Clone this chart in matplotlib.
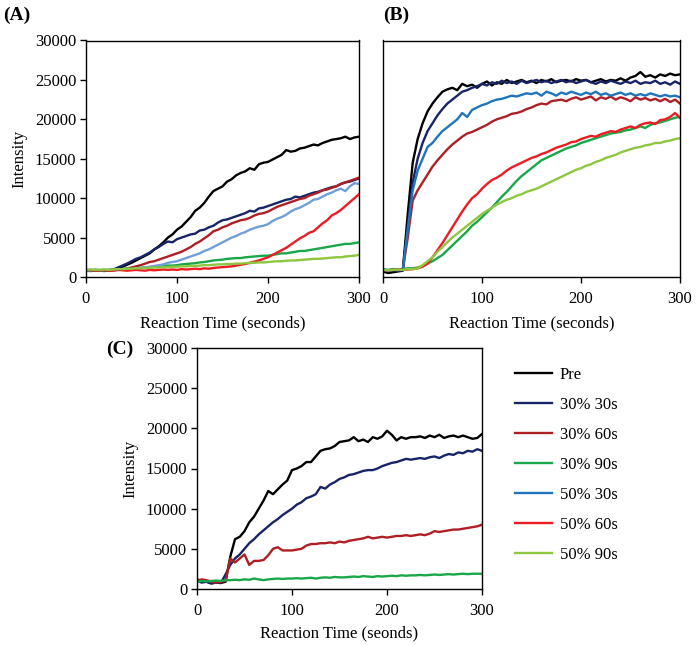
import numpy as np
import matplotlib
matplotlib.use("Agg")
import matplotlib.pyplot as plt

plt.rcParams['font.family'] = ['Liberation Serif', 'DejaVu Serif']

time_s = list(range(0, 301, 5))
labels = ["Pre", "30% 30s", "30% 60s", "30% 90s", "50% 30s", "50% 60s", "50% 90s"]

# ---------------- Panel A ----------------
a_pre = [800, 850, 780, 820, 760, 850, 900, 1100, 1300, 1550, 1800, 2100, 2400, 2700, 3000, 3500, 3900, 4400, 5000, 5400,
         6000, 6400, 7000, 7600, 8400, 8800, 9400, 10200, 10900, 11200, 11500, 12100, 12400, 12900, 13200, 13400, 13800,
         13600, 14300, 14500, 14600, 14900, 15200, 15500, 16100, 15900, 16000, 16300, 16400, 16600, 16800, 16700, 17000,
         17200, 17400, 17500, 17600, 17800, 17500, 17700, 17800]
a_30_30 = [800, 760, 820, 780, 800, 850, 950, 1200, 1450, 1700, 2000, 2300, 2500, 2800, 3100, 3500, 3800, 4200, 4500, 4400,
           4800, 5000, 5200, 5400, 5500, 5900, 6000, 6300, 6500, 6900, 7200, 7300, 7500, 7700, 7900, 8100, 8400, 8300, 8700,
           8800, 9000, 9200, 9400, 9600, 9800, 9900, 10200, 10100, 10300, 10500, 10700, 10800, 11000, 11200, 11400, 11500,
           11800, 12000, 12100, 12300, 12500]
a_30_60 = [850, 800, 900, 780, 820, 850, 820, 900, 950, 1100, 1200, 1350, 1500, 1700, 1900, 2000, 2200, 2400, 2600, 2800,
           3000, 3200, 3500, 3800, 4200, 4500, 4900, 5300, 5800, 6000, 6300, 6500, 6800, 7000, 7200, 7300, 7500, 7800, 8000,
           8100, 8300, 8600, 8900, 9100, 9300, 9500, 9700, 9900, 10000, 10300, 10500, 10700, 11000, 11100, 11300, 11500,
           11800, 12000, 12200, 12400, 12600]
a_30_90 = [800, 850, 820, 800, 850, 880, 900, 950, 1000, 1050, 1000, 1100, 1150, 1200, 1250, 1300, 1350, 1400, 1450, 1450,
           1500, 1600, 1650, 1700, 1750, 1850, 1900, 2000, 2100, 2150, 2200, 2300, 2350, 2400, 2400, 2500, 2550, 2600, 2650,
           2700, 2700, 2800, 2900, 3000, 3000, 3100, 3200, 3300, 3300, 3400, 3500, 3600, 3700, 3800, 3900, 4000, 4100, 4200,
           4200, 4300, 4400]
a_50_30 = [900, 850, 950, 880, 900, 950, 900, 950, 1000, 1050, 1000, 1100, 1150, 1250, 1300, 1400, 1500, 1600, 1800, 1900,
           2000, 2200, 2400, 2600, 2800, 3000, 3300, 3500, 3800, 4100, 4400, 4700, 5000, 5200, 5500, 5700, 6000, 6200, 6400,
           6500, 6700, 7100, 7400, 7600, 7900, 8300, 8600, 8800, 9100, 9400, 9800, 9900, 10200, 10500, 10700, 11000, 11200,
           10900, 11500, 11900, 11800]
a_50_60 = [850, 900, 800, 850, 900, 800, 850, 900, 850, 800, 850, 900, 850, 800, 900, 850, 900, 950, 900, 950, 900, 1000,
           950, 1000, 1050, 1000, 1100, 1050, 1150, 1200, 1250, 1300, 1350, 1450, 1550, 1650, 1800, 1950, 2100, 2300, 2500,
           2800, 3100, 3400, 3700, 4100, 4500, 4900, 5200, 5600, 5800, 6300, 6800, 7200, 7800, 8100, 8500, 9000, 9500,
           10000, 10500]
a_50_90 = [900, 950, 900, 920, 950, 900, 950, 1000, 1000, 1050, 1050, 1100, 1100, 1150, 1150, 1200, 1200, 1250, 1250, 1300,
           1300, 1350, 1350, 1400, 1400, 1450, 1500, 1500, 1550, 1600, 1600, 1650, 1650, 1700, 1700, 1750, 1800, 1800, 1850,
           1850, 1900, 1950, 2000, 2000, 2050, 2100, 2100, 2150, 2200, 2250, 2300, 2300, 2350, 2400, 2450, 2500, 2500, 2600,
           2650, 2700, 2800]

# ---------------- Panel B ----------------
b_pre = [700, 500, 600, 700, 800, 8000, 14500, 17500, 19500, 21000, 22000, 22800, 23500, 23800, 24000, 23700, 24500, 24200,
         24400, 24000, 24500, 24800, 24300, 24700, 24500, 25000, 24600, 24800, 25000, 24700, 24900, 24600, 25000, 24800,
         25100, 24700, 24900, 25000, 24800, 25100, 24900, 25000, 24700, 24900, 25100, 24800, 25000, 24900, 25200, 24900,
         25300, 25500, 26000, 25400, 25600, 25300, 25700, 25500, 25800, 25600, 25700]
b_30_30 = [900, 800, 850, 900, 850, 6500, 12000, 15000, 17000, 18500, 19500, 20500, 21300, 22000, 22500, 23000, 23500, 23700,
           24000, 24200, 24500, 24300, 24700, 24500, 24900, 24600, 24800, 24500, 24900, 24600, 24800, 25000, 24700, 24900,
           24600, 24800, 25000, 24700, 24900, 24600, 24800, 25000, 24700, 24500, 24800, 24600, 24900, 24700, 24500, 24800,
           24600, 24900, 24500, 24700, 24600, 24900, 24500, 24700, 24400, 24800, 24500]
b_30_60 = [900, 850, 900, 880, 900, 5000, 9700, 11000, 12000, 13000, 14000, 14800, 15500, 16200, 16800, 17300, 17800, 18200,
           18400, 18700, 19000, 19300, 19700, 20000, 20200, 20400, 20700, 20800, 21000, 21300, 21500, 21800, 22000, 21900,
           22300, 22400, 22500, 22300, 22600, 22800, 22500, 22700, 22900, 22400, 22800, 22600, 22900, 22500, 22800, 22600,
           22300, 22800, 22500, 22700, 22400, 22600, 22300, 22600, 22200, 22500, 22000]
b_30_90 = [1000, 900, 1000, 950, 1000, 1100, 1100, 1200, 1400, 1700, 2000, 2400, 2800, 3400, 4000, 4600, 5200, 5800, 6500,
           7000, 7600, 8200, 8800, 9500, 10200, 10800, 11500, 12200, 12800, 13300, 13800, 14300, 14800, 15100, 15400, 15700,
           16000, 16300, 16500, 16700, 17000, 17200, 17400, 17600, 17800, 18000, 18200, 18300, 18400, 18600, 18700, 18900,
           19100, 18900, 19300, 19500, 19600, 19800, 20000, 20200, 20300]
b_50_30 = [900, 850, 900, 850, 900, 6000, 11000, 13500, 15000, 16500, 17000, 17800, 18500, 19000, 19500, 20000, 20800, 20300,
           21200, 21500, 21800, 22000, 22300, 22500, 22600, 22800, 23000, 22900, 23100, 23300, 23200, 23400, 23000, 23500,
           23300, 23000, 23400, 23200, 23500, 23300, 23100, 23400, 23200, 23500, 23100, 23300, 23000, 23200, 23400, 23100,
           23300, 23000, 23200, 23000, 23300, 23100, 22900, 23100, 22900, 23000, 22800]
b_50_60 = [900, 850, 900, 950, 900, 950, 1000, 1100, 1300, 1700, 2500, 3400, 4300, 5300, 6300, 7300, 8300, 9200, 10000,
           10500, 11200, 11800, 12300, 12600, 13000, 13500, 13900, 14200, 14500, 14800, 15100, 15300, 15600, 15800, 16100,
           16400, 16600, 16800, 17100, 17200, 17500, 17700, 17900, 17800, 18100, 18300, 18500, 18400, 18700, 18900, 19100,
           18900, 19300, 19500, 19600, 19400, 19900, 20000, 20300, 20800, 20200]
b_50_90 = [900, 850, 900, 950, 900, 1000, 1000, 1100, 1500, 2000, 2500, 3200, 3800, 4400, 5000, 5500, 6000, 6500, 7000,
           7500, 8000, 8400, 8800, 9200, 9500, 9800, 10000, 10300, 10500, 10800, 11000, 11200, 11500, 11800, 12100, 12400,
           12700, 13000, 13300, 13600, 13800, 14100, 14300, 14600, 14800, 15100, 15300, 15500, 15800, 16000, 16200, 16400,
           16500, 16700, 16800, 17000, 17000, 17200, 17300, 17500, 17600]

# ---------------- Panel C ----------------
c_pre = [1200, 1000, 900, 700, 800, 750, 900, 4000, 6200, 6500, 7200, 8300, 9000, 10000, 11000, 12200, 11800, 12400, 13000,
         13500, 14800, 15000, 15300, 15800, 15800, 16500, 17200, 17400, 17500, 17800, 18300, 18400, 18500, 18900, 18400,
         18600, 18300, 18900, 18700, 19000, 19700, 19200, 18500, 18900, 18700, 18900, 18900, 19000, 18800, 19100, 18900,
         19200, 18800, 19000, 19100, 18900, 19100, 18900, 18700, 18800, 19300]
c_30_30 = [1000, 800, 900, 700, 800, 750, 1800, 3000, 3800, 4300, 5000, 5700, 6200, 6800, 7300, 7800, 8300, 8700, 9200,
           9600, 10000, 10500, 10800, 11300, 11500, 11800, 12700, 12500, 13000, 13300, 13700, 13900, 14200, 14300, 14500,
           14700, 14800, 14800, 15000, 15300, 15500, 15700, 15800, 16000, 16200, 16100, 16200, 16300, 16200, 16400, 16500,
           16300, 16600, 16800, 16700, 17000, 16900, 17200, 17100, 17400, 17200]
c_30_60 = [1000, 1200, 1100, 900, 800, 900, 1000, 3800, 3300, 3800, 4300, 3000, 3500, 3500, 3600, 4200, 5000, 5200, 4800,
           4800, 4800, 4900, 5000, 5400, 5600, 5600, 5700, 5700, 5800, 5700, 5900, 5800, 6000, 6100, 6200, 6300, 6500, 6300,
           6400, 6500, 6400, 6500, 6600, 6600, 6700, 6600, 6700, 6800, 6700, 6900, 7200, 7100, 7200, 7300, 7400, 7400, 7500,
           7600, 7700, 7800, 8000]
c_30_90 = [900, 1000, 950, 1000, 1050, 1000, 1100, 1100, 1150, 1100, 1200, 1150, 1300, 1200, 1100, 1200, 1250, 1300, 1250,
           1300, 1300, 1350, 1300, 1350, 1400, 1300, 1400, 1450, 1400, 1500, 1450, 1450, 1500, 1550, 1500, 1600, 1550, 1500,
           1600, 1550, 1600, 1650, 1600, 1700, 1650, 1700, 1700, 1750, 1700, 1750, 1800, 1750, 1800, 1850, 1800, 1850, 1900,
           1850, 1900, 1900, 1900]

colors = ['#000000', '#172467', '#ae1f24', '#1aa74a', '#1f74bb', '#ed1c24', '#8dc63f']
colors_a = ['#000000', '#172467', '#ae1f24', '#1aa74a', '#6f9fd8', '#ed1c24', '#8dc63f']

W, H = 696, 646
fig = plt.figure(figsize=(W / 100, H / 100), dpi=100)

def frac(l, t, r, b):
    return [l / W, 1 - b / H, (r - l) / W, (b - t) / H]

axA = fig.add_axes(frac(86, 40.5, 359, 277))
axB = fig.add_axes(frac(383, 40.5, 680, 277))
axC = fig.add_axes(frac(197, 348, 482, 589))

LW = 1.7
FS = 12

for ser, c in zip([a_pre, a_30_30, a_30_60, a_30_90, a_50_30, a_50_60, a_50_90], colors_a):
    axA.plot(time_s, ser, color=c, lw=LW)
handles = []
for ser, c, lab in zip([b_pre, b_30_30, b_30_60, b_30_90, b_50_30, b_50_60, b_50_90], colors, labels):
    ln, = axB.plot(time_s, ser, color=c, lw=LW, label=lab)
    handles.append(ln)
for ser, c in zip([c_pre, c_30_30, c_30_60, c_30_90], colors[:4]):
    axC.plot(time_s, ser, color=c, lw=LW)

for ax in (axA, axB, axC):
    ax.set_xlim(0, 300)
    ax.set_ylim(0, 30000)
    ax.set_xticks([0, 100, 200, 300])
    ax.set_yticks([0, 5000, 10000, 15000, 20000, 25000, 30000])
    ax.tick_params(direction='out', length=4, width=1, labelsize=FS, pad=3)
    ax.tick_params(axis='x', pad=6)
    for sp in ax.spines.values():
        sp.set_linewidth(1.0)

axB.tick_params(axis='y', length=0, labelleft=False)

axA.set_xlabel("Reaction Time (seconds)", fontsize=FS, labelpad=6)
axB.set_xlabel("Reaction Time (seconds)", fontsize=FS, labelpad=6)
axC.set_xlabel("Reaction Time (seonds)", fontsize=FS, labelpad=5)
axA.set_ylabel("Intensity", fontsize=FS, labelpad=5)
axC.set_ylabel("Intensity", fontsize=FS, labelpad=5)

fig.text(3 / W, 1 - 15 / H, "(A)", fontsize=14, fontweight='bold', va='center', ha='left')
fig.text(383 / W, 1 - 15 / H, "(B)", fontsize=14, fontweight='bold', va='center', ha='left')
fig.text(106 / W, 1 - 349 / H, "(C)", fontsize=14, fontweight='bold', va='center', ha='left')

fig.legend(handles=handles, labels=labels, loc='upper left', bbox_to_anchor=(515 / W, 1 - 367 / H),
           frameon=False, fontsize=FS, borderpad=0, borderaxespad=0, handlelength=2.2,
           handletextpad=0.48, labelspacing=0.84)

fig.savefig("out.png", dpi=100)
